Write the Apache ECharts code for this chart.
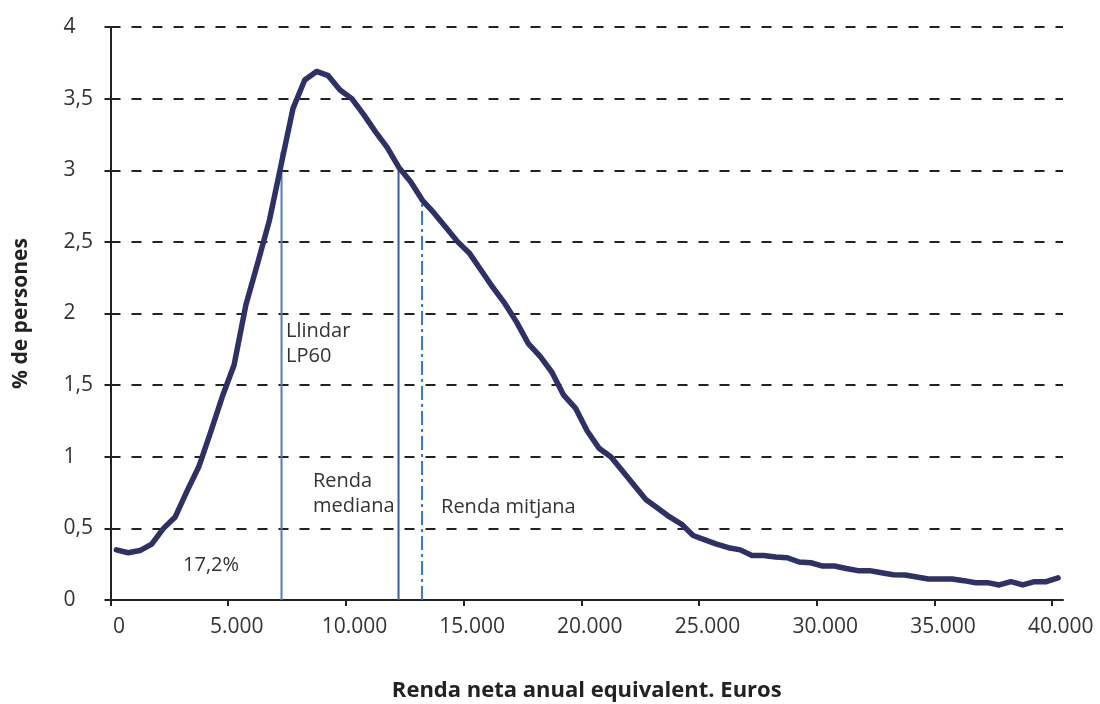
<!DOCTYPE html>
<html>
<head>
<meta charset="utf-8">
<script src="https://cdn.jsdelivr.net/npm/echarts@6/dist/echarts.min.js"></script>
<style>
html,body{margin:0;padding:0;background:#fff;}
#chart{width:1100px;height:704px;}
</style>
</head>
<body>
<div id="chart"></div>
<script>
// Bin centres (euros)
const xEuros = [250, 750, 1250, 1750, 2250, 2750, 3250, 3750, 4250, 4750,
  5250, 5750, 6250, 6750, 7250, 7750, 8250, 8750, 9250, 9750,
  10250, 10750, 11250, 11750, 12250, 12750, 13250, 13750, 14250, 14750,
  15250, 15750, 16250, 16750, 17250, 17750, 18250, 18750, 19250, 19750,
  20250, 20750, 21250, 21750, 22250, 22750, 23250, 23750, 24250, 24750,
  25250, 25750, 26250, 26750, 27250, 27750, 28250, 28750, 29250, 29750,
  30250, 30750, 31250, 31750, 32250, 32750, 33250, 33750, 34250, 34750,
  35250, 35750, 36250, 36750, 37250, 37750, 38250, 38750, 39250, 39750, 40250];
// % de persones
const pctPersones = [0.35, 0.33, 0.345, 0.39, 0.50, 0.58, 0.76, 0.93, 1.17, 1.42,
  1.64, 2.06, 2.35, 2.65, 3.04, 3.43, 3.63, 3.69, 3.66, 3.56,
  3.50, 3.39, 3.27, 3.16, 3.02, 2.92, 2.79, 2.70, 2.60, 2.50,
  2.42, 2.30, 2.18, 2.07, 1.94, 1.79, 1.70, 1.59, 1.43, 1.34,
  1.18, 1.06, 1.00, 0.90, 0.80, 0.70, 0.64, 0.58, 0.53, 0.45,
  0.42, 0.39, 0.365, 0.35, 0.31, 0.31, 0.30, 0.295, 0.265, 0.26,
  0.237, 0.237, 0.22, 0.205, 0.205, 0.19, 0.176, 0.175, 0.16, 0.147,
  0.147, 0.147, 0.135, 0.121, 0.121, 0.105, 0.128, 0.105, 0.128, 0.128, 0.155];

const xTickValues = [0, 5000, 10000, 15000, 20000, 25000, 30000, 35000, 40000];

// Reference lines: LP60 threshold, median, mean
const refNames = ['Llindar LP60', 'Renda mediana', 'Renda mitjana'];
const refX = [7265, 12235, 13234];
const refTop = [3.13, 3.02, 2.77];
const refColors = ['#4f7cc0', '#3b5c9c', '#3579c8'];
const refDash = ['solid', 'solid', [14, 4, 3, 4]];

// Annotations (data coords of text top-left)
const noteTexts = ['Llindar\nLP60', 'Renda\nmediana', 'Renda mitjana', '17,2%'];
const noteX = [7456, 8603, 14041, 3080];
const noteY = [1.965, 0.918, 0.737, 0.33];

const FONT = 'Open Sans';
const chart = echarts.init(document.getElementById('chart'), null, {renderer: 'canvas'});

const fmtThousands = v => String(v).replace(/\B(?=(\d{3})+(?!\d))/g, '.');

const series = [];
refX.forEach((x, i) => {
  series.push({
    name: refNames[i],
    type: 'line',
    data: [[x, 0], [x, refTop[i]]],
    symbol: 'none',
    silent: true,
    z: 2,
    lineStyle: {color: refColors[i], width: 2, type: refDash[i]}
  });
});
series.push({
  name: '% de persones',
  type: 'line',
  data: xEuros.map((x, i) => [x, pctPersones[i]]),
  symbol: 'none',
  z: 5,
  lineStyle: {color: '#2e3166', width: 5.5, join: 'round', cap: 'round'}
});

chart.setOption({
  backgroundColor: '#fff',
  animation: false,
  grid: {left: 110.5, right: 37, top: 27, bottom: 104, containLabel: false, outerBoundsMode: 'none'},
  xAxis: {
    type: 'value',
    min: 0,
    max: 40460,
    name: 'Renda neta anual equivalent. Euros',
    nameLocation: 'middle',
    nameGap: 80,
    nameTextStyle: {fontFamily: FONT, fontSize: 22, fontWeight: 'bold', color: '#222'},
    axisLine: {show: true, onZero: false, lineStyle: {color: '#222', width: 2}},
    axisTick: {show: true, length: 6, lineStyle: {color: '#222', width: 2}, customValues: xTickValues},
    axisLabel: {
      customValues: xTickValues,
      fontFamily: FONT, fontSize: 21, color: '#333', margin: 17,
      padding: [0, 0, 0, 17],
      formatter: v => fmtThousands(v)
    },
    splitLine: {show: false}
  },
  yAxis: {
    type: 'value',
    min: 0,
    max: 4,
    interval: 0.5,
    name: '% de persones',
    nameLocation: 'middle',
    nameRotate: 90,
    nameGap: 79,
    nameTextStyle: {fontFamily: FONT, fontSize: 21, fontWeight: 'bold', color: '#222'},
    axisLine: {show: true, lineStyle: {color: '#222', width: 2}},
    axisTick: {show: true, length: 6, lineStyle: {color: '#222', width: 2}},
    axisLabel: {
      fontFamily: FONT, fontSize: 21, color: '#333', margin: 47, align: 'left',
      formatter: v => String(v).replace('.', ',')
    },
    splitLine: {show: true, lineStyle: {color: '#222', width: 2, type: [10, 11]}}
  },
  series: series
});

// Place annotation texts at data positions
const graphics = noteTexts.map((t, i) => {
  const p = chart.convertToPixel({gridIndex: 0}, [noteX[i], noteY[i]]);
  return {
    type: 'text',
    left: p[0],
    top: p[1],
    silent: true,
    z: 10,
    style: {text: t, fill: '#333', font: '20px "' + FONT + '"', lineHeight: 25}
  };
});
chart.setOption({graphic: graphics});
</script>
</body>
</html>
